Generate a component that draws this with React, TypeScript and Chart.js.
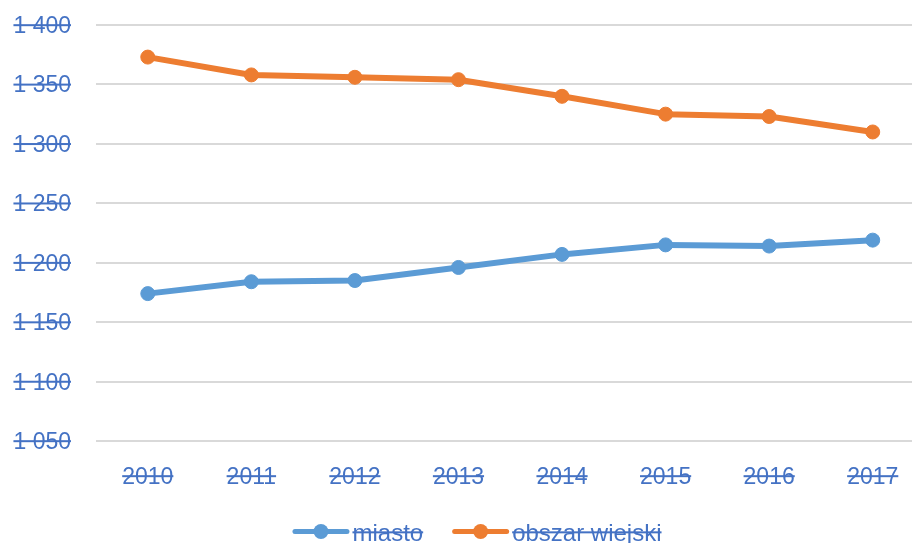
import React, { useEffect, useRef } from 'react';
import { Chart, registerables } from 'chart.js';

Chart.register(...registerables);

const years = ['2010', '2011', '2012', '2013', '2014', '2015', '2016', '2017'];
const miasto = [1174, 1184, 1185, 1196, 1207, 1215, 1214, 1219];
const obszarWiejski = [1373, 1358, 1356, 1354, 1340, 1325, 1323, 1310];
const seriesNames = ['miasto', 'obszar wiejski'];
const yMin = 1050;
const yMax = 1400;
const yStep = 50;

const formatTick = (v: number) => {
  const s = String(Math.round(v));
  return s.length > 3 ? s.slice(0, s.length - 3) + ' ' + s.slice(-3) : s;
};

const TEXT = '#4472C4';
const BLUE = '#5B9BD5';
const ORANGE = '#ED7D31';
const FONT_FAMILY = '"Liberation Sans", Arial, sans-serif';
const CANVAS_W = 954;
const CANVAS_H = 543;

function strikeText(ctx: CanvasRenderingContext2D, text: string, x: number, y: number, align: CanvasTextAlign, size: number) {
  ctx.font = `${size}px ${FONT_FAMILY}`;
  ctx.fillStyle = TEXT;
  ctx.textAlign = align;
  ctx.textBaseline = 'alphabetic';
  ctx.fillText(text, x, y);
  const w = ctx.measureText(text).width;
  const x0 = align === 'right' ? x - w : align === 'center' ? x - w / 2 : x;
  ctx.fillRect(x0, y - size * 0.34 - 1, w, 2);
  return w;
}

const customText = {
  id: 'customText',
  afterDraw(chart: any) {
    const ctx: CanvasRenderingContext2D = chart.ctx;
    const ys = chart.scales.y;
    const xs = chart.scales.x;
    const area = chart.chartArea;
    ctx.save();
    ys.ticks.forEach((t: any, i: number) => {
      const py = ys.getPixelForTick(i);
      strikeText(ctx, formatTick(t.value), ys.right - 25, py + 8, 'right', 23);
    });
    xs.ticks.forEach((t: any, i: number) => {
      const px = xs.getPixelForTick(i);
      strikeText(ctx, String(xs.getLabelForValue(t.value)), px, area.bottom + 43, 'center', 23);
    });
    // legend
    const size = 24;
    ctx.font = `${size}px ${FONT_FAMILY}`;
    const symW = 57;
    const gap = 3;
    const itemGap = 29;
    const ds = chart.data.datasets;
    const widths = ds.map((d: any) => ctx.measureText(d.label).width);
    const total = widths.reduce((a: number, w: number) => a + symW + gap + w, 0) + itemGap * (ds.length - 1);
    let x = chart.width / 2 - total / 2;
    const cy = 531.5;
    ds.forEach((d: any, i: number) => {
      ctx.strokeStyle = d.borderColor;
      ctx.lineWidth = 5;
      ctx.lineCap = 'round';
      ctx.beginPath();
      ctx.moveTo(x + 2.5, cy);
      ctx.lineTo(x + symW - 2.5, cy);
      ctx.stroke();
      ctx.fillStyle = d.borderColor;
      ctx.beginPath();
      ctx.arc(x + symW / 2, cy, 7.5, 0, Math.PI * 2);
      ctx.fill();
      x += symW + gap;
      strikeText(ctx, d.label, x, 540.5, 'left', size);
      x += widths[i] + itemGap;
    });
    ctx.restore();
  },
};

export default function App() {
  const ref = useRef<HTMLCanvasElement | null>(null);

  useEffect(() => {
    document.body.style.margin = '0';
    if (!ref.current) return;
    const mk = (label: string, data: number[], color: string) => ({
      label,
      data,
      borderColor: color,
      backgroundColor: color,
      borderWidth: 6,
      pointRadius: 7,
      pointBorderWidth: 1,
      pointBackgroundColor: color,
      pointBorderColor: color,
      borderCapStyle: 'round' as const,
      borderJoinStyle: 'round' as const,
      tension: 0,
    });
    const chart = new Chart(ref.current, {
      type: 'line',
      data: {
        labels: years,
        datasets: [mk(seriesNames[0], miasto, BLUE), mk(seriesNames[1], obszarWiejski, ORANGE)],
      },
      options: {
        responsive: false,
        animation: false,
        devicePixelRatio: 1,
        layout: { padding: { top: 25, right: 29.5, left: 0, bottom: 0 } },
        plugins: { legend: { display: false }, tooltip: { enabled: false } },
        scales: {
          x: {
            offset: true,
            grid: { display: false },
            border: { display: false },
            ticks: { display: false },
            afterFit: (s: any) => {
              s.height = 102;
            },
          },
          y: {
            min: yMin,
            max: yMax,
            ticks: { stepSize: yStep, display: false },
            grid: { color: '#D9D9D9', lineWidth: 2, drawTicks: false },
            border: { display: false },
            afterFit: (s: any) => {
              s.width = 96;
            },
          },
        },
      },
      plugins: [customText],
    });
    return () => chart.destroy();
  }, []);

  return (
    <div style={{ width: 912, height: CANVAS_H, overflow: 'hidden', position: 'relative', background: '#fff' }}>
      <canvas ref={ref} width={CANVAS_W} height={CANVAS_H} style={{ display: 'block' }} />
    </div>
  );
}
